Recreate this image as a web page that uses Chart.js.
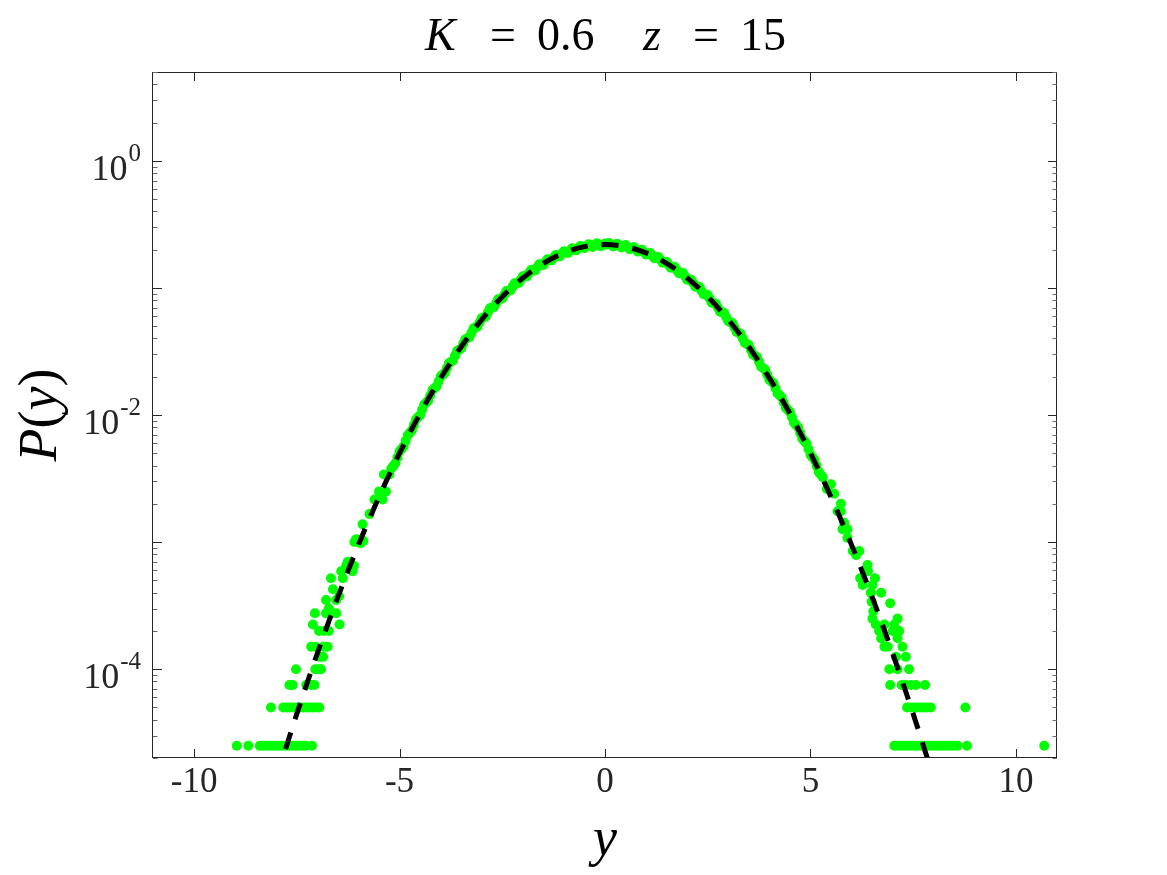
<!DOCTYPE html>
<html>
<head>
<meta charset="utf-8">
<script src="https://cdn.jsdelivr.net/npm/chart.js@4"></script>
<style>
  html, body { margin: 0; padding: 0; background: #fff; }
  #wrap { width: 1167px; height: 875px; }
</style>
</head>
<body>
<div id="wrap"><canvas id="pdfChart" width="1167" height="875"></canvas></div>
<script>
// axis limits and ticks
const xRange = [-11, 11];
const yRange = [2e-5, 5];
const xTicks = [-10, -5, 0, 5, 10];
const xTickLabels = ['-10', '-5', '0', '5', '10'];
const yMajorTicks = [1e-4, 1e-3, 1e-2, 1e-1, 1];
const yLabelTicks = [1e-4, 1e-2, 1];
const yLabelExp = ['-4', '-2', '0'];

// dashed fit curve
const fitY = [-8, -7.5, -7, -6.5, -6, -5.5, -5, -4.5, -4, -3.5, -3, -2.5, -2, -1.5, -1, -0.5, 0,
              0.5, 1, 1.5, 2, 2.5, 3, 3.5, 4, 4.5, 5, 5.5, 6, 6.5, 7, 7.5, 8];
const fitP = [1.38e-5, 4.45e-5, 1.333e-4, 3.70e-4, 9.51e-4, 2.267e-3, 5.011e-3, 1.027e-2, 1.953e-2, 3.443e-2, 5.627e-2, 8.527e-2, 0.1198, 0.1561, 0.1885, 0.2112, 0.2193,
              0.2112, 0.1885, 0.1561, 0.1198, 8.527e-2, 5.627e-2, 3.443e-2, 1.953e-2, 1.027e-2, 5.011e-3, 2.267e-3, 9.51e-4, 3.70e-4, 1.333e-4, 4.45e-5, 1.38e-5];

// histogram, dense middle part
const histCoreY = [-5.2, -5.1, -5.0, -4.9, -4.8, -4.7, -4.6, -4.5, -4.4, -4.3, -4.2, -4.1, -4.0, -3.9, -3.8, -3.7, -3.6, -3.5, -3.4, -3.3, -3.2, -3.1, -3.0,
  -2.9, -2.8, -2.7, -2.6, -2.5, -2.4, -2.3, -2.2, -2.1, -2.0, -1.9, -1.8, -1.7, -1.6, -1.5, -1.4, -1.3, -1.2, -1.1, -1.0, -0.9, -0.8, -0.7, -0.6, -0.5, -0.4, -0.3, -0.2, -0.1, 0,
  0.1, 0.2, 0.3, 0.4, 0.5, 0.6, 0.7, 0.8, 0.9, 1.0, 1.1, 1.2, 1.3, 1.4, 1.5, 1.6, 1.7, 1.8, 1.9, 2.0, 2.1, 2.2, 2.3, 2.4, 2.5, 2.6, 2.7, 2.8, 2.9, 3.0,
  3.1, 3.2, 3.3, 3.4, 3.5, 3.6, 3.7, 3.8, 3.9, 4.0, 4.1, 4.2, 4.3, 4.4, 4.5, 4.6, 4.7, 4.8, 4.9, 5.0, 5.1, 5.2, 5.3];
const histCoreP = [0.00379, 0.00417, 0.00516, 0.00565, 0.00694, 0.00755, 0.00922, 0.00996, 0.01210, 0.01300, 0.01570, 0.01676, 0.02012, 0.02135, 0.02547, 0.02686, 0.03186, 0.03340, 0.03936, 0.04101, 0.04805, 0.04977, 0.05796,
  0.05967, 0.06906, 0.07067, 0.08131, 0.08270, 0.09457, 0.09562, 0.1087, 0.1092, 0.1234, 0.1233, 0.1384, 0.1374, 0.1534, 0.1514, 0.1680, 0.1648, 0.1817, 0.1771, 0.1942, 0.1882, 0.2051, 0.1975, 0.2139, 0.2049, 0.2205, 0.2098, 0.2245, 0.2124, 0.2237,
  0.2256, 0.2115, 0.2228, 0.2077, 0.2175, 0.2015, 0.2097, 0.1931, 0.1998, 0.1828, 0.1881, 0.1711, 0.1750, 0.1582, 0.1608, 0.1444, 0.1460, 0.1304, 0.1309, 0.1162, 0.1160, 0.1023, 0.1015, 0.08907, 0.08782, 0.07657, 0.07505, 0.06504, 0.06337, 0.05458,
  0.05285, 0.04525, 0.04355, 0.03706, 0.03546, 0.03000, 0.02852, 0.02399, 0.02267, 0.01894, 0.01780, 0.01478, 0.01380, 0.01140, 0.01058, 0.00869, 0.00801, 0.00654, 0.00599, 0.00486, 0.00443, 0.00357, 0.00324];

// histogram, bins between the ones above
const histMidY = [-5.15, -5.05, -4.95, -4.85, -4.75, -4.65, -4.55, -4.45, -4.35, -4.25, -4.15, -4.05, -3.95, -3.85, -3.75, -3.65, -3.55, -3.45, -3.35, -3.25, -3.15, -3.05,
  -2.95, -2.85, -2.75, -2.65, -2.55, -2.45, -2.35, -2.25, -2.15, -2.05, -1.95, -1.85, -1.75, -1.65, -1.55, -1.45, -1.35, -1.25, -1.15, -1.05, -0.95, -0.85, -0.75, -0.65, -0.55, -0.45, -0.35, -0.25, -0.15, -0.05,
  0.05, 0.15, 0.25, 0.35, 0.45, 0.55, 0.65, 0.75, 0.85, 0.95, 1.05, 1.15, 1.25, 1.35, 1.45, 1.55, 1.65, 1.75, 1.85, 1.95, 2.05, 2.15, 2.25, 2.35, 2.45, 2.55, 2.65, 2.75, 2.85, 2.95,
  3.05, 3.15, 3.25, 3.35, 3.45, 3.55, 3.65, 3.75, 3.85, 3.95, 4.05, 4.15, 4.25, 4.35, 4.45, 4.55, 4.65, 4.75, 4.85, 4.95, 5.05, 5.15, 5.25];
const histMidP = [0.00398, 0.00464, 0.00540, 0.00626, 0.00724, 0.00835, 0.00959, 0.01099, 0.01255, 0.01429, 0.01623, 0.01837, 0.02073, 0.02333, 0.02617, 0.02927, 0.03263, 0.03627, 0.04019, 0.04441, 0.04892, 0.05373,
  0.05884, 0.06423, 0.06989, 0.07584, 0.08204, 0.08848, 0.09514, 0.1020, 0.1090, 0.1161, 0.1234, 0.1307, 0.1380, 0.1453, 0.1525, 0.1596, 0.1665, 0.1731, 0.1795, 0.1855, 0.1912, 0.1965, 0.2013, 0.2056, 0.2094, 0.2127, 0.2152, 0.2172, 0.2185, 0.2192,
  0.2192, 0.2185, 0.2172, 0.2152, 0.2127, 0.2094, 0.2056, 0.2013, 0.1965, 0.1912, 0.1855, 0.1795, 0.1731, 0.1665, 0.1596, 0.1525, 0.1453, 0.1380, 0.1307, 0.1234, 0.1161, 0.1090, 0.1020, 0.09514, 0.08848, 0.08204, 0.07584, 0.06989, 0.06423, 0.05884,
  0.05373, 0.04892, 0.04441, 0.04019, 0.03627, 0.03263, 0.02927, 0.02617, 0.02333, 0.02073, 0.01837, 0.01623, 0.01429, 0.01255, 0.01099, 0.00959, 0.00835, 0.00724, 0.00626, 0.00540, 0.00464, 0.00398, 0.00340];

// left tail
const histLeftY = [-8.96, -8.68, -8.40, -8.32, -8.24, -8.16, -8.08, -8.00, -7.92, -7.84, -7.76, -7.68, -7.60, -7.52, -7.44, -7.36, -7.28, -7.13,
  -8.13, -7.83, -7.75, -7.67, -7.59, -7.51, -7.43, -7.35, -7.27, -7.19, -7.11, -7.03, -6.95,
  -7.68, -7.60, -7.27, -7.15, -7.07,
  -7.52, -7.05, -6.96, -6.91,
  -6.94, -6.86,
  -7.15, -7.05, -6.85, -6.75,
  -6.96, -6.84, -6.72,
  -7.11, -6.46,
  -7.06, -6.79, -6.66, -6.54,
  -6.72, -6.79, -6.54, -6.47, -6.62, -6.67, -6.38, -6.42, -6.14, -6.30, -6.11, -6.26,
  -6.10, -6.06, -6.02, -5.95, -5.88, -5.90, -5.73, -5.61, -5.41, -5.50, -5.33, -5.38, -5.25];
const histLeftP = [2.5e-5, 2.5e-5, 2.5e-5, 2.5e-5, 2.5e-5, 2.5e-5, 2.5e-5, 2.5e-5, 2.5e-5, 2.5e-5, 2.5e-5, 2.5e-5, 2.5e-5, 2.5e-5, 2.5e-5, 2.5e-5, 2.5e-5, 2.5e-5,
  5e-5, 5e-5, 5e-5, 5e-5, 5e-5, 5e-5, 5e-5, 5e-5, 5e-5, 5e-5, 5e-5, 5e-5, 5e-5,
  7.5e-5, 7.5e-5, 7.5e-5, 7.5e-5, 7.5e-5,
  1e-4, 1e-4, 1e-4, 1e-4,
  1.25e-4, 1.25e-4,
  1.5e-4, 1.5e-4, 1.5e-4, 1.5e-4,
  2e-4, 2e-4, 2e-4,
  2.25e-4, 2.25e-4,
  2.75e-4, 2.75e-4, 2.75e-4, 2.75e-4,
  3.0e-4, 3.5e-4, 3.5e-4, 3.75e-4, 4.25e-4, 5.2e-4, 5.2e-4, 5.9e-4, 5.9e-4, 6.5e-4, 6.5e-4, 7.0e-4,
  1.0e-3, 1.05e-3, 1.05e-3, 9.8e-4, 1.02e-3, 1.38e-3, 1.66e-3, 2.16e-3, 2.16e-3, 2.5e-3, 2.5e-3, 3.4e-3, 3.4e-3];

// right tail
const histRightY = [7.04, 7.12, 7.20, 7.28, 7.36, 7.44, 7.52, 7.60, 7.68, 7.76, 7.84, 7.92, 8.00, 8.08, 8.16, 8.24, 8.32, 8.40, 8.48, 8.58, 8.81, 10.69,
  7.35, 7.43, 7.51, 7.59, 7.67, 7.75, 7.83, 7.93, 8.77,
  6.94, 7.22, 7.32, 7.45, 7.57, 7.79,
  6.92, 7.12, 7.40,
  7.08, 7.32,
  6.80, 6.88, 7.24,
  6.72, 7.12,
  6.67, 7.00, 7.16,
  6.59, 6.80, 7.04,
  6.51, 7.12,
  6.53, 6.94, 6.49, 6.47, 6.72, 6.27, 6.51, 6.21, 6.57, 6.40, 6.39, 6.11, 6.03, 6.19,
  5.90, 5.78, 5.90, 5.82, 5.66, 5.74, 5.74, 5.58, 5.50, 5.40];
const histRightP = [2.5e-5, 2.5e-5, 2.5e-5, 2.5e-5, 2.5e-5, 2.5e-5, 2.5e-5, 2.5e-5, 2.5e-5, 2.5e-5, 2.5e-5, 2.5e-5, 2.5e-5, 2.5e-5, 2.5e-5, 2.5e-5, 2.5e-5, 2.5e-5, 2.5e-5, 2.5e-5, 2.5e-5, 2.5e-5,
  5e-5, 5e-5, 5e-5, 5e-5, 5e-5, 5e-5, 5e-5, 5e-5, 5e-5,
  7.5e-5, 7.5e-5, 7.5e-5, 7.5e-5, 7.5e-5, 7.5e-5,
  1e-4, 1e-4, 1e-4,
  1.25e-4, 1.25e-4,
  1.5e-4, 1.5e-4, 1.5e-4,
  1.75e-4, 1.75e-4,
  2e-4, 2e-4, 2e-4,
  2.25e-4, 2.25e-4, 2.25e-4,
  2.5e-4, 2.5e-4,
  2.85e-4, 3.3e-4, 3.4e-4, 4.0e-4, 4.0e-4, 4.6e-4, 4.6e-4, 5.2e-4, 5.2e-4, 5.9e-4, 6.6e-4, 7.9e-4, 8.5e-4, 8.5e-4,
  1.08e-3, 1.26e-3, 1.26e-3, 1.42e-3, 1.75e-3, 1.75e-3, 2.0e-3, 2.4e-3, 2.85e-3, 2.62e-3];

const axisColor = '#262626';
const serif = '"Liberation Serif", "Times New Roman", serif';

const toPoints = (xs, ps) => xs.map((v, i) => ({ x: v, y: ps[i] }));

// draw a run of text pieces (some italic) one after another
function drawRun(ctx, pieces, x, y, size) {
  pieces.forEach(p => {
    ctx.font = (p.it ? 'italic ' : '') + size + 'px ' + serif;
    ctx.fillText(p.t, x, y);
    x += ctx.measureText(p.t).width;
  });
}
function runWidth(ctx, pieces, size) {
  let w = 0;
  pieces.forEach(p => {
    ctx.font = (p.it ? 'italic ' : '') + size + 'px ' + serif;
    w += ctx.measureText(p.t).width;
  });
  return w;
}

const matlabAxes = {
  id: 'matlabAxes',
  afterDatasetsDraw(chart) {
    const { ctx, chartArea: a, scales: { x, y } } = chart;
    ctx.save();
    ctx.strokeStyle = axisColor;
    ctx.fillStyle = axisColor;
    ctx.lineWidth = 1;

    // box
    ctx.strokeRect(a.left - 0.5, a.top + 0.5, a.right - a.left, a.bottom - a.top - 1);

    // ticks pointing inward, all four sides
    ctx.beginPath();
    xTicks.forEach(v => {
      const px = Math.round(x.getPixelForValue(v)) + 0.5;
      ctx.moveTo(px, a.bottom); ctx.lineTo(px, a.bottom - 9);
      ctx.moveTo(px, a.top); ctx.lineTo(px, a.top + 9);
    });
    yMajorTicks.forEach(v => {
      const py = Math.round(y.getPixelForValue(v)) + 0.5;
      ctx.moveTo(a.left, py); ctx.lineTo(a.left + 9, py);
      ctx.moveTo(a.right, py); ctx.lineTo(a.right - 9, py);
    });
    ctx.stroke();

    ctx.beginPath();
    ctx.strokeStyle = '#6a6a6a';
    for (let d = -5; d <= 0; d++) {
      for (let m = 2; m <= 9; m++) {
        const v = m * Math.pow(10, d);
        if (v < yRange[0] || v > yRange[1]) continue;
        const py = Math.round(y.getPixelForValue(v)) + 0.5;
        ctx.moveTo(a.left, py); ctx.lineTo(a.left + 4.5, py);
        ctx.moveTo(a.right, py); ctx.lineTo(a.right - 4.5, py);
      }
    }
    ctx.stroke();

    // x tick labels
    ctx.font = '35px ' + serif;
    ctx.textAlign = 'center';
    ctx.textBaseline = 'alphabetic';
    xTicks.forEach((v, i) => {
      ctx.fillText(xTickLabels[i], x.getPixelForValue(v), a.bottom + 34);
    });

    // y tick labels 10^n
    ctx.textAlign = 'left';
    yLabelTicks.forEach((v, i) => {
      const py = y.getPixelForValue(v);
      ctx.font = '25px ' + serif;
      const ew = ctx.measureText(yLabelExp[i]).width;
      ctx.font = '36px ' + serif;
      const bw = ctx.measureText('10').width;
      const right = a.left - 12;
      ctx.fillText('10', right - ew - bw - 1, py + 19);
      ctx.font = '25px ' + serif;
      ctx.fillText(yLabelExp[i], right - ew, py);
    });

    // title
    ctx.fillStyle = '#000';
    const titleSize = 46;
    ctx.font = 'italic ' + titleSize + 'px ' + serif; ctx.fillText('K', 425, 50);
    ctx.font = titleSize + 'px ' + serif; ctx.fillText('=', 490, 50);
    ctx.fillText('0.6', 537, 50);
    ctx.font = 'italic ' + titleSize + 'px ' + serif; ctx.fillText('z', 643, 50);
    ctx.font = titleSize + 'px ' + serif; ctx.fillText('=', 693, 50);
    ctx.fillText('15', 740, 50);

    // x label
    const labSize = 54;
    const xl = [{ t: 'y', it: true }];
    drawRun(ctx, xl, (a.left + a.right) / 2 - runWidth(ctx, xl, labSize) / 2, 855, labSize);

    // y label, rotated
    const yl = [{ t: 'P', it: true }, { t: '(' }, { t: 'y', it: true }, { t: ')' }];
    ctx.save();
    ctx.translate(56, (a.top + a.bottom) / 2);
    ctx.rotate(-Math.PI / 2);
    drawRun(ctx, yl, -runWidth(ctx, yl, labSize) / 2, 0, labSize);
    ctx.restore();

    ctx.restore();
  }
};

const pdfChart = new Chart(document.getElementById('pdfChart'), {
  type: 'scatter',
  data: {
    datasets: [
      {
        label: 'fit',
        data: toPoints(fitY, fitP),
        showLine: true,
        borderColor: '#000',
        borderWidth: 5,
        borderDash: [17, 14],
        pointRadius: 0,
        cubicInterpolationMode: 'monotone',
        clip: 0,
        order: 0
      },
      {
        label: 'hist',
        data: toPoints(histCoreY, histCoreP)
          .concat(toPoints(histMidY, histMidP))
          .concat(toPoints(histLeftY, histLeftP))
          .concat(toPoints(histRightY, histRightP)),
        backgroundColor: '#00ff00',
        borderColor: '#00ff00',
        borderWidth: 0,
        pointRadius: 5,
        order: 1
      }
    ]
  },
  options: {
    responsive: false,
    animation: false,
    devicePixelRatio: 1,
    layout: { padding: { top: 72, right: 110, bottom: 0, left: 0 } },
    plugins: {
      legend: { display: false },
      tooltip: { enabled: false },
      title: { display: false }
    },
    scales: {
      x: {
        type: 'linear', min: xRange[0], max: xRange[1],
        grid: { display: false }, border: { display: false }, ticks: { display: false },
        afterFit(s) { s.height = 117; }
      },
      y: {
        type: 'logarithmic', min: yRange[0], max: yRange[1],
        grid: { display: false }, border: { display: false }, ticks: { display: false },
        afterFit(s) { s.width = 153; }
      }
    }
  },
  plugins: [matlabAxes]
});
</script>
</body>
</html>
